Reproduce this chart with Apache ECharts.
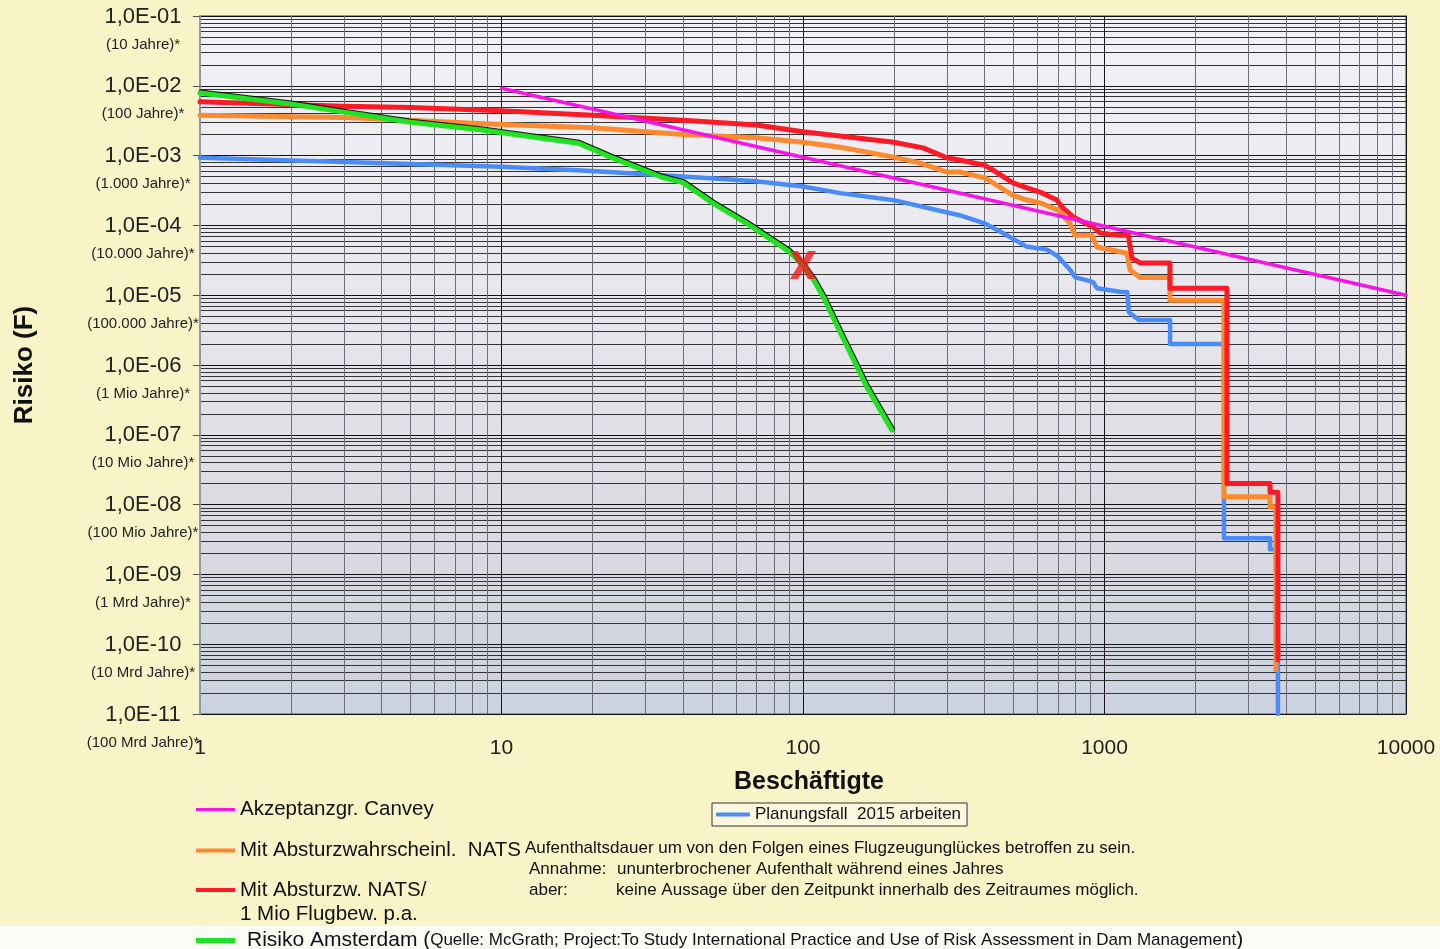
<!DOCTYPE html>
<html>
<head>
<meta charset="utf-8">
<title>Risiko F-N Kurve</title>
<script src="https://cdn.jsdelivr.net/npm/echarts@6/dist/echarts.min.js"></script>
<style>
  html, body { margin: 0; padding: 0; background: #f8f4c8; }
  #riskChart { width: 1440px; height: 949px; }
</style>
</head>
<body>
<div id="riskChart"></div>
<script>
// tick labels (index = -exponent - 1 for y, exponent for x)
var yTickLabels = ['1,0E-01', '1,0E-02', '1,0E-03', '1,0E-04', '1,0E-05', '1,0E-06',
  '1,0E-07', '1,0E-08', '1,0E-09', '1,0E-10', '1,0E-11'];
var yYearLabels = ['(10 Jahre)*', '(100 Jahre)*', '(1.000 Jahre)*', '(10.000 Jahre)*',
  '(100.000 Jahre)*', '(1 Mio Jahre)*', '(10 Mio Jahre)*', '(100 Mio Jahre)*',
  '(1 Mrd Jahre)*', '(10 Mrd Jahre)*', '(100 Mrd Jahre)*'];
var xTickLabels = ['1', '10', '100', '1000', '10000'];

// series [Beschaeftigte, Risiko F]
var canveyData = [[10, 9.2e-3], [10000, 1.0e-5]];

var planungData = [[1, 9.3e-4], [3, 8.1e-4], [5, 7.6e-4], [10, 6.9e-4], [20, 6.0e-4],
  [40, 5.0e-4], [70, 4.3e-4], [100, 3.6e-4], [133, 2.9e-4], [200, 2.3e-4], [330, 1.4e-4],
  [400, 1.07e-4], [460, 7.8e-5], [550, 5.0e-5], [645, 4.5e-5], [700, 3.6e-5], [770, 2.3e-5],
  [800, 1.8e-5], [915, 1.55e-5], [945, 1.26e-5], [1125, 1.12e-5], [1190, 1.1e-5],
  [1205, 5.7e-6], [1300, 4.4e-6], [1650, 4.4e-6], [1650, 2.0e-6], [2490, 2.0e-6],
  [2490, 3.3e-9], [3540, 3.3e-9], [3540, 2.3e-9], [3760, 2.3e-9], [3760, 1e-11]];

var natsData = [[1, 3.8e-3], [3, 3.5e-3], [5, 3.2e-3], [8, 2.9e-3], [10, 2.8e-3], [20, 2.5e-3],
  [40, 2.0e-3], [70, 1.8e-3], [100, 1.55e-3], [133, 1.32e-3], [200, 9.5e-4], [245, 7.8e-4],
  [300, 5.8e-4], [332, 5.8e-4], [401, 4.8e-4], [427, 4.06e-4], [497, 2.7e-4], [553, 2.31e-4],
  [611, 2.1e-4], [701, 1.66e-4], [769, 1.07e-4], [798, 7.2e-5], [910, 7.2e-5], [944, 4.9e-5],
  [1188, 4.0e-5], [1216, 2.3e-5], [1312, 1.8e-5], [1648, 1.8e-5], [1648, 8.5e-6],
  [2490, 8.5e-6], [2490, 1.3e-8], [3540, 1.3e-8], [3540, 9.3e-9], [3700, 9.3e-9],
  [3700, 4.3e-11]];

var nats1MioData = [[1, 5.9e-3], [3, 5.1e-3], [5, 4.9e-3], [10, 4.4e-3], [20, 3.8e-3],
  [40, 3.2e-3], [70, 2.75e-3], [100, 2.2e-3], [200, 1.55e-3], [250, 1.29e-3], [300, 9.3e-4],
  [330, 8.65e-4], [400, 7.3e-4], [427, 6.2e-4], [497, 4.06e-4], [553, 3.46e-4], [611, 3.0e-4],
  [695, 2.31e-4], [728, 1.78e-4], [787, 1.32e-4], [916, 9.5e-5], [966, 7.8e-5], [1125, 7.2e-5],
  [1200, 7.2e-5], [1233, 3.4e-5], [1312, 2.9e-5], [1648, 2.9e-5], [1648, 1.26e-5],
  [2548, 1.26e-5], [2548, 2.0e-8], [3540, 2.0e-8], [3540, 1.5e-8], [3760, 1.5e-8],
  [3760, 6e-11]];

var amsterdamData = [[1, 7.9e-3], [2, 5.5e-3], [3, 4.2e-3], [5, 3.0e-3], [8.5, 2.34e-3],
  [18, 1.5e-3], [23, 9.5e-4], [34, 4.9e-4], [40, 4.1e-4], [50, 2.1e-4], [65, 1.07e-4],
  [90, 4.2e-5], [100, 2.7e-5], [108, 1.7e-5], [117, 9.3e-6], [133, 2.9e-6], [163, 4.8e-7],
  [197, 1.17e-7]];

var markerData = [[100, 2.7e-5]];

var noteLines = [
  'Aufenthaltsdauer um von den Folgen eines Flugzeugunglückes betroffen zu sein.',
  'Annahme:', 'ununterbrochener Aufenthalt während eines Jahres',
  'aber:', 'keine Aussage über den Zeitpunkt innerhalb des Zeitraumes möglich.'
];

var FONT = 'Liberation Sans, Arial, sans-serif';
var X_PATH = 'path://M0,0 L8,0 L13,8.5 L18,0 L26,0 L17.5,14 L26,28 L18,28 L13,19.5 L8,28 L0,28 L8.5,14 Z';

var riskChart = echarts.init(document.getElementById('riskChart'));

function lineSeries(name, data, color, width, extra) {
  var s = {
    name: name,
    type: 'line',
    data: data,
    symbol: 'none',
    silent: true,
    color: color,
    lineStyle: { color: color, width: width, cap: 'round', join: 'round' }
  };
  if (extra) {
    for (var k in extra) s.lineStyle[k] = extra[k];
  }
  return s;
}

function singleLegend(name, left, top, extra) {
  var l = {
    data: [name],
    left: left,
    top: top,
    padding: 0,
    icon: 'rect',
    itemWidth: 39,
    itemHeight: 4,
    selectedMode: false,
    textStyle: { fontSize: 20.5, color: '#111', fontFamily: FONT }
  };
  if (extra) {
    for (var k in extra) l[k] = extra[k];
  }
  return l;
}

riskChart.setOption({
  backgroundColor: '#f8f4c8',
  animation: false,
  grid: {
    left: 200,
    right: 34,
    top: 16,
    bottom: 235,
    outerBoundsMode: 'none',
    show: true,
    borderColor: '#8c9ba3',
    borderWidth: 2,
    backgroundColor: new echarts.graphic.LinearGradient(0, 0, 0, 1, [
      { offset: 0, color: '#f1f2f6' },
      { offset: 0.45, color: '#e6e5ec' },
      { offset: 0.7, color: '#dddbe2' },
      { offset: 1, color: '#cbd2df' }
    ])
  },
  xAxis: {
    type: 'log',
    logBase: 10,
    min: 1,
    max: 10000,
    name: 'Beschäftigte',
    nameLocation: 'middle',
    nameGap: 56,
    nameTextStyle: { fontSize: 25, fontWeight: 'bold', color: '#111', fontFamily: FONT, padding: [0, 0, 0, 12] },
    axisLine: { show: false },
    axisTick: { show: false },
    axisLabel: {
      margin: 24,
      fontSize: 21,
      color: '#222',
      fontFamily: FONT,
      formatter: function (value) {
        return xTickLabels[Math.round(Math.log10(value))];
      }
    },
    splitLine: { show: true, lineStyle: { color: '#161616', width: 1 } },
    minorTick: { show: false, splitNumber: 9 },
    minorSplitLine: { show: true, lineStyle: { color: '#6c7077', width: 1 } }
  },
  yAxis: {
    type: 'log',
    logBase: 10,
    min: 1e-11,
    max: 1e-1,
    interval: 1,
    splitNumber: 10,
    name: 'Risiko (F)',
    nameLocation: 'middle',
    nameGap: 162,
    nameTextStyle: { fontSize: 26, fontWeight: 'bold', color: '#111', fontFamily: FONT },
    axisLine: { show: true, lineStyle: { color: '#8c9ba3', width: 2 } },
    axisTick: { show: true, length: 7, lineStyle: { color: '#555' } },
    axisLabel: {
      margin: 57,
      align: 'center',
      verticalAlign: 'top',
      showMinLabel: true,
      showMaxLabel: true,
      hideOverlap: false,
      color: '#222',
      fontFamily: FONT,
      formatter: function (value) {
        var i = Math.round(-Math.log10(value)) - 1;
        return '{a|' + yTickLabels[i] + '}\n{b|' + yYearLabels[i] + '}';
      },
      rich: {
        a: { fontSize: 22, lineHeight: 1, align: 'center', color: '#222', fontFamily: FONT },
        b: { fontSize: 15, lineHeight: 55, align: 'center', color: '#222', fontFamily: FONT }
      }
    },
    splitLine: { show: true, lineStyle: { color: '#111', width: 1 } },
    minorTick: { show: false, splitNumber: 9 },
    minorSplitLine: { show: true, lineStyle: { color: '#333', width: 1 } }
  },
  legend: [
    singleLegend('Akzeptanzgr. Canvey', 196, 799, { itemHeight: 3 }),
    singleLegend('Mit Absturzwahrscheinl.  NATS', 196, 840),
    singleLegend('Mit Absturzw. NATS/ 1 Mio Flugbew. p.a.', 196, 861, {
      formatter: function () {
        return '{c| }\n{a|Mit Absturzw. NATS/}\n{a|1 Mio Flugbew. p.a.}';
      },
      textStyle: {
        color: '#111',
        fontFamily: FONT,
        rich: {
          a: { fontSize: 20.5, lineHeight: 24, color: '#111', fontFamily: FONT },
          c: { fontSize: 10, lineHeight: 24 }
        }
      }
    }),
    singleLegend('Risiko Amsterdam', 196, 930, {
      itemHeight: 5,
      formatter: function (name) {
        return '{a|' + name + ' (}{b|Quelle: McGrath; Project:To Study International Practice and Use of Risk Assessment in Dam Management}{a|)}';
      },
      textStyle: {
        color: '#111',
        fontFamily: FONT,
        padding: [0, 0, 0, 7],
        rich: {
          a: { fontSize: 21, lineHeight: 20, color: '#111', fontFamily: FONT },
          b: { fontSize: 17, lineHeight: 20, color: '#111', fontFamily: FONT }
        }
      }
    }),
    singleLegend('Planungsfall  2015 arbeiten', 712, 803, {
      padding: [2, 6, 2, 4],
      itemWidth: 34,
      icon: 'roundRect',
      borderColor: '#333',
      borderWidth: 1,
      backgroundColor: '#fbf8de',
      textStyle: { fontSize: 17, color: '#111', fontFamily: FONT, lineHeight: 19 }
    })
  ],
  graphic: [
    { type: 'rect', shape: { x: 0, y: 926, width: 1440, height: 23 }, style: { fill: '#fcfcf7' }, z: -1 },
    { type: 'text', x: 525, y: 840, style: { text: noteLines[0], font: '17px ' + FONT, fill: '#111' } },
    { type: 'text', x: 529, y: 861, style: { text: noteLines[1], font: '17px ' + FONT, fill: '#111' } },
    { type: 'text', x: 617, y: 861, style: { text: noteLines[2], font: '17px ' + FONT, fill: '#111' } },
    { type: 'text', x: 529, y: 882, style: { text: noteLines[3], font: '17px ' + FONT, fill: '#111' } },
    { type: 'text', x: 616, y: 882, style: { text: noteLines[4], font: '17px ' + FONT, fill: '#111' } }
  ],
  series: [
    lineSeries('Planungsfall  2015 arbeiten', planungData, '#4a8cf7', 4.5),
    lineSeries('Mit Absturzwahrscheinl.  NATS', natsData, '#fd8a2e', 5),
    lineSeries('Mit Absturzw. NATS/ 1 Mio Flugbew. p.a.', nats1MioData, '#fb1a26', 5),
    lineSeries('Akzeptanzgr. Canvey', canveyData, '#f715e6', 3.5),
    lineSeries('Risiko Amsterdam', amsterdamData, '#22e022', 5, {
      shadowColor: 'rgba(0,0,0,0.85)', shadowBlur: 0, shadowOffsetX: 0.8, shadowOffsetY: -1
    }),
    {
      name: 'Marker',
      type: 'scatter',
      data: markerData,
      symbol: X_PATH,
      symbolSize: [26, 28],
      itemStyle: { color: '#f41a1a' },
      silent: true,
      z: 5
    }
  ]
});

window.addEventListener('resize', function () {
  riskChart.resize();
});
</script>
</body>
</html>
